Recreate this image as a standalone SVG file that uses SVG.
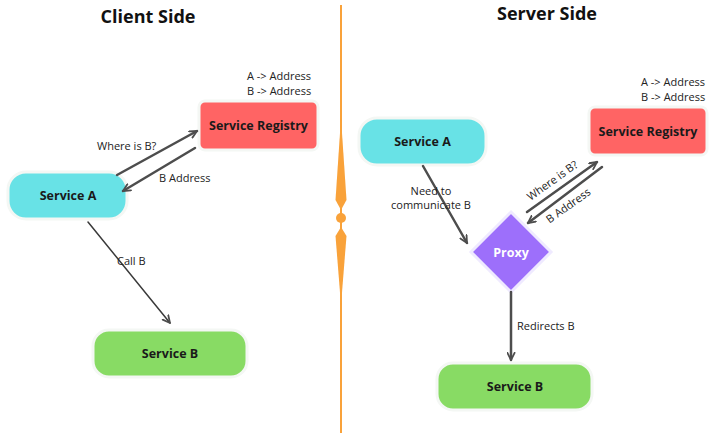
<svg xmlns="http://www.w3.org/2000/svg" width="720" height="435" viewBox="0 0 720 435">
<defs>
<style>
.title{font-family:"Open Sans","Liberation Sans",sans-serif;font-weight:700;font-size:18px;fill:#111;text-anchor:middle}
.nlabel{font-family:"Open Sans","Liberation Sans",sans-serif;font-weight:700;font-size:12.5px;fill:#1a1a1a;text-anchor:middle;dominant-baseline:central}
.lbl{font-family:"Open Sans","Liberation Sans",sans-serif;font-size:11px;fill:#222;dominant-baseline:central}
.conn{fill:none;stroke:#4d4d4d;stroke-width:2.5;stroke-linecap:round}
.thin{stroke-width:1.5;stroke:#3a3a3a}
.halo{stroke:#f4f7f4;stroke-width:3}
</style>
<marker id="ah" viewBox="0 0 10 10" refX="9" refY="5" markerWidth="9" markerHeight="9" markerUnits="userSpaceOnUse" orient="auto">
<path d="M1,1 L9,5 L1,9" fill="none" stroke="#4d4d4d" stroke-width="2" stroke-linecap="round" stroke-linejoin="round"/>
</marker>
</defs>
<rect width="720" height="435" fill="#ffffff"/>

<g id="divider" fill="#F9A23A">
<line x1="341" y1="5" x2="341" y2="433" stroke="#F9A23A" stroke-width="2"/>
<polygon points="341,118 346.5,200 341,210 335.5,200"/>
<circle cx="341" cy="218" r="5"/>
<polygon points="341,227 346.5,236 341,305 335.5,236"/>
</g>

<text class="title" x="148" y="23">Client Side</text>
<text class="title" x="547" y="20">Server Side</text>

<g id="client-registry">
<rect x="199" y="101" width="119" height="49" rx="6" fill="#FF6464" class="halo"/>
<text class="nlabel" x="258.5" y="125.5">Service Registry</text>
<text class="lbl" x="247" y="75">A -&gt; Address</text>
<text class="lbl" x="247" y="90">B -&gt; Address</text>
</g>
<g id="client-service-a">
<rect x="8" y="172" width="119" height="47" rx="18" fill="#68E2E6" class="halo"/>
<text class="nlabel" x="68" y="195.5">Service A</text>
</g>
<g id="client-service-b">
<rect x="93" y="330" width="154" height="47" rx="16" fill="#88DB64" class="halo"/>
<text class="nlabel" x="170" y="353.5">Service B</text>
</g>

<g id="server-service-a">
<rect x="359" y="118" width="127" height="47" rx="18" fill="#68E2E6" class="halo"/>
<text class="nlabel" x="422.5" y="141.5">Service A</text>
</g>
<g id="server-registry">
<rect x="589" y="107" width="118" height="48" rx="6" fill="#FF6464" class="halo"/>
<text class="nlabel" x="648" y="131">Service Registry</text>
<text class="lbl" x="641" y="81">A -&gt; Address</text>
<text class="lbl" x="641" y="96">B -&gt; Address</text>
</g>
<g id="proxy">
<polygon points="511,212 551,252 511,292 471,252" fill="#9D6FFB" stroke="#efeaff" stroke-width="3"/>
<text class="nlabel" x="511" y="252" style="fill:#ffffff">Proxy</text>
</g>
<g id="server-service-b">
<rect x="437" y="363" width="155" height="47" rx="16" fill="#88DB64" class="halo"/>
<text class="nlabel" x="515" y="386.5">Service B</text>
</g>

<g id="connectors">
<line class="conn" x1="117" y1="175" x2="197" y2="131" marker-end="url(#ah)"/>
<line class="conn" x1="195" y1="148" x2="123" y2="191" marker-end="url(#ah)"/>
<line class="conn thin" x1="88" y1="222" x2="170" y2="323" marker-end="url(#ah)"/>
<line class="conn" stroke-width="2" x1="423" y1="166" x2="467" y2="243" marker-end="url(#ah)"/>
<line class="conn" x1="527" y1="212" x2="597" y2="162" marker-end="url(#ah)"/>
<line class="conn" x1="602" y1="167" x2="528" y2="223" marker-end="url(#ah)"/>
<line class="conn" stroke-width="2" x1="511" y1="292" x2="511" y2="360" marker-end="url(#ah)"/>
<text class="lbl" x="97" y="145">Where is B?</text>
<text class="lbl" x="159" y="177">B Address</text>
<text class="lbl" x="117" y="260">Call B</text>
<text class="lbl" x="431" y="190" text-anchor="middle">Need to</text>
<text class="lbl" x="431" y="204" text-anchor="middle">communicate B</text>
<text class="lbl" x="552" y="180" text-anchor="middle" transform="rotate(-35.5 552 180)">Where is B?</text>
<text class="lbl" x="568" y="205" text-anchor="middle" transform="rotate(-35.5 568 205)">B Address</text>
<text class="lbl" x="517" y="325">Redirects B</text>
</g>
</svg>
